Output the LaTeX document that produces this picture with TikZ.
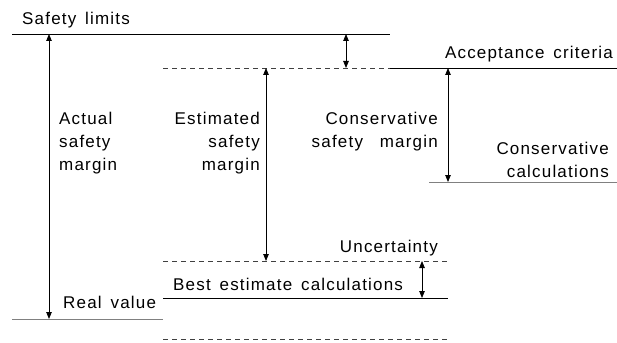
\documentclass[tikz,border=0pt]{standalone}
\usepackage{fontspec}
\setmainfont{Liberation Sans}[LetterSpace=7,WordSpace=1.5]
\usetikzlibrary{arrows.meta}

\begin{document}
\begin{tikzpicture}[x=1pt,y=-1pt,
  lbl/.style={inner sep=0pt,font=\fontsize{17}{23}\selectfont},
  marg/.style={{Triangle[length=7pt,width=5.5pt]}-{Triangle[length=7pt,width=5.5pt]},line width=0.8pt},
  dsh/.style={dash pattern=on 5pt off 4pt,black!75,line width=0.8pt},
  lvl/.style={line width=0.8pt},
  grey/.style={line width=0.8pt,black!50}]
\useasboundingbox (0,0) rectangle (617,342);
% levels
\coordinate (sl-w) at (12,34);   \coordinate (sl-e) at (390,34);
\coordinate (ac-w) at (163,68);  \coordinate (ac-m) at (390,68);
\coordinate (ac-e) at (617,68);
\coordinate (cc-w) at (429,182); \coordinate (cc-e) at (617,182);
\coordinate (un-w) at (163,261); \coordinate (un-e) at (448,261);
\coordinate (be-w) at (163,298); \coordinate (be-e) at (448,298);
\coordinate (rv-w) at (12,319);  \coordinate (rv-e) at (163,319);
\coordinate (lo-w) at (163,339); \coordinate (lo-e) at (448,339);
\draw[lvl] (sl-w) -- (sl-e);
\draw[dsh] (ac-w) -- (ac-m);
\draw[lvl] (ac-m) -- (ac-e);
\draw[grey] (cc-w) -- (cc-e);
\draw[dsh] (un-w) -- (un-e);
\draw[lvl] (be-w) -- (be-e);
\draw[grey] (rv-w) -- (rv-e);
\draw[dsh] (lo-w) -- (lo-e);
% margins
\foreach \n/\x/\ya/\yb in {act/49/34/319, gap/346/34/68, est/266/68/261,
  con/448/68/182, unc/422/261/298} {
  \coordinate (\n-t) at (\x,\ya);
  \coordinate (\n-b) at (\x,\yb);
  \draw[marg] (\n-t) -- (\n-b);
}
% labels
\node[lbl,anchor=base west] (slt) at (22,25) {Safety limits};
\node[lbl,anchor=base east] (act) at (613,59) {Acceptance criteria};
\node[lbl,anchor=base west,align=left] (asm) at (59,170) {Actual\\safety\\margin};
\node[lbl,anchor=base east,align=right] (esm) at (260,170) {Estimated\\safety\\margin};
\node[lbl,anchor=base east,align=right] (csm) at (438,147) {Conservative\\safety\hspace{8pt} margin};
\node[lbl,anchor=base east,align=right] (cct) at (609,177) {Conservative\\calculations};
\node[lbl,anchor=base east] (unt) at (438,252) {Uncertainty};
\node[lbl,anchor=base west] (bet) at (173,290) {Best estimate calculations};
\node[lbl,anchor=base west] (rvt) at (63,308) {Real value};
\end{tikzpicture}
\end{document}
